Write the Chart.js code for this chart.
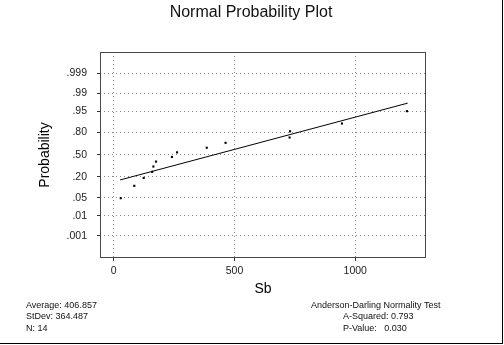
<!DOCTYPE html>
<html>
<head>
<meta charset="utf-8">
<script src="https://cdn.jsdelivr.net/npm/chart.js@4/dist/chart.umd.min.js"></script>
<style>
  body { margin: 0; background: #fff; }
  #wrap { position: relative; width: 504px; height: 345px; overflow: hidden; }
  #frame { position: absolute; left: 0; top: 0; width: 502px; height: 343px; border-right: 1px solid #000; border-bottom: 1px solid #000; pointer-events: none; }
  .txt { position: absolute; font-family: Arial, "Liberation Sans", sans-serif; color: #111; white-space: pre; }
  #title { left: 0; width: 502px; top: 4px; text-align: center; font-size: 16px; line-height: 16px; }
  .foot { font-size: 9px; line-height: 11.3px; }
</style>
</head>
<body>
<div id="wrap">
  <canvas id="c" width="504" height="345"></canvas>
  <div id="title" class="txt">Normal Probability Plot</div>
  <div class="txt foot" style="left:26px; top:300px;">Average: 406.857
StDev: 364.487
N: 14</div>
  <div class="txt foot" style="left:311px; top:300px;">Anderson-Darling Normality Test</div>
  <div class="txt foot" style="left:343px; top:311.3px;">A-Squared: 0.793
P-Value:   0.030</div>
  <div id="frame"></div>
</div>
<script>
// data
const sbValues = [29, 85, 124, 159, 164, 175, 241, 262, 385, 463, 728, 730, 945, 1214]
const probValues = [0.049, 0.118, 0.188, 0.257, 0.326, 0.396, 0.465, 0.535, 0.604, 0.674, 0.743, 0.813, 0.882, 0.951]
const fitX = [26, 1217]
const fitP = [0.168, 0.975]
const probTicks = [0.001, 0.01, 0.05, 0.2, 0.5, 0.8, 0.95, 0.99, 0.999]
const probLabels = [".001", ".01", ".05", ".20", ".50", ".80", ".95", ".99", ".999"]
const xTicks = [0, 500, 1000]
const xLabels = ["0", "500", "1000"]

// inverse normal cdf (Acklam) -> probability axis is linear in z
function normInv(p) {
  const a = [-3.969683028665376e+01, 2.209460984245205e+02, -2.759285104469687e+02, 1.383577518672690e+02, -3.066479806614716e+01, 2.506628277459239e+00]
  const b = [-5.447609879822406e+01, 1.615858368580409e+02, -1.556989798598866e+02, 6.680131188771972e+01, -1.328068155288572e+01]
  const c = [-7.784894002430293e-03, -3.223964580411365e-01, -2.400758277161838e+00, -2.549732539343734e+00, 4.374664141464968e+00, 2.938163982698783e+00]
  const d = [7.784695709041462e-03, 3.224671290700398e-01, 2.445134137142996e+00, 3.754408661907416e+00]
  const pl = 0.02425
  let q, r
  if (p < pl) {
    q = Math.sqrt(-2 * Math.log(p))
    return (((((c[0]*q+c[1])*q+c[2])*q+c[3])*q+c[4])*q+c[5]) / ((((d[0]*q+d[1])*q+d[2])*q+d[3])*q+1)
  }
  if (p <= 1 - pl) {
    q = p - 0.5
    r = q * q
    return (((((a[0]*r+a[1])*r+a[2])*r+a[3])*r+a[4])*r+a[5])*q / (((((b[0]*r+b[1])*r+b[2])*r+b[3])*r+b[4])*r+1)
  }
  q = Math.sqrt(-2 * Math.log(1 - p))
  return -(((((c[0]*q+c[1])*q+c[2])*q+c[3])*q+c[4])*q+c[5]) / ((((d[0]*q+d[1])*q+d[2])*q+d[3])*q+1)
}

const points = sbValues.map((v, i) => ({x: v, y: normInv(probValues[i])}))
const fitLine = fitX.map((v, i) => ({x: v, y: normInv(fitP[i])}))
const tickZ = probTicks.map(p => normInv(p))

const frame = {
  id: 'frame',
  afterDraw(chart) {
    const {ctx, chartArea} = chart
    ctx.save()
    ctx.strokeStyle = '#474747'
    ctx.lineWidth = 1
    ctx.strokeRect(chartArea.left + 0.5, chartArea.top + 0.5, chartArea.right - chartArea.left - 1, chartArea.bottom - chartArea.top - 1)
    ctx.restore()
  }
}

const tickFont = {family: 'Arial, "Liberation Sans", sans-serif', size: 10.5}

new Chart(document.getElementById('c'), {
  type: 'scatter',
  data: {
    datasets: [
      {
        type: 'line',
        data: fitLine,
        borderColor: '#000',
        borderWidth: 1,
        pointRadius: 0,
        fill: false
      },
      {
        data: points,
        pointStyle: 'rect',
        pointRadius: 1.5,
        pointBackgroundColor: '#000',
        pointBorderWidth: 0
      }
    ]
  },
  options: {
    responsive: false,
    animation: false,
    layout: {padding: {top: 52, right: 78, left: 0, bottom: 0}},
    plugins: {legend: {display: false}, tooltip: {enabled: false}},
    scales: {
      x: {
        type: 'linear',
        min: -57,
        max: 1293,
        afterBuildTicks: (s) => { s.ticks = xTicks.map(v => ({value: v})) },
        afterFit: (s) => { s.height = 87 },
        ticks: {font: tickFont, color: '#222', padding: 4, maxRotation: 0, callback: (v, i) => xLabels[i]},
        grid: {color: '#8a8a8a', tickColor: '#333', tickLength: 3, tickBorderDash: []},
        border: {display: false, dash: [1, 3]},
        title: {display: true, text: 'Sb', color: '#000', font: {family: 'Arial, "Liberation Sans", sans-serif', size: 14}, padding: {top: 0, bottom: 47}}
      },
      y: {
        type: 'linear',
        min: -3.93,
        max: 3.905,
        afterBuildTicks: (s) => { s.ticks = tickZ.map(v => ({value: v})) },
        afterFit: (s) => { s.width = 100 },
        ticks: {
          font: tickFont,
          color: '#222',
          padding: 10,
          callback: (v, i) => probLabels[i]
        },
        grid: {color: '#8a8a8a', tickColor: '#333', tickLength: 3, tickBorderDash: []},
        border: {display: false, dash: [1, 3]},
        title: {display: true, text: 'Probability', color: '#000', font: {family: 'Arial, "Liberation Sans", sans-serif', size: 14}, padding: {top: 37, bottom: 0}}
      }
    }
  },
  plugins: [frame]
})
</script>
</body>
</html>
